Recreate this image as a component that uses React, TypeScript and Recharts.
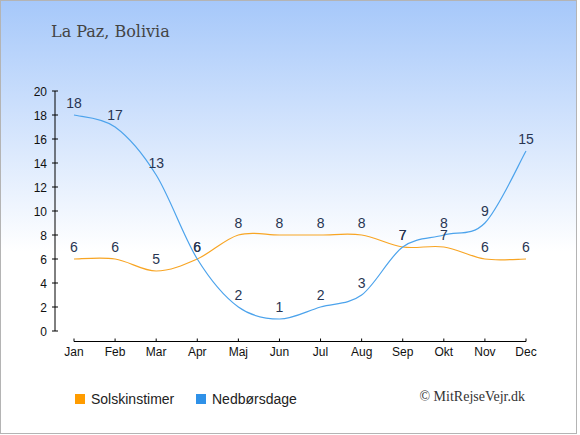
import { LineChart, Line, XAxis, YAxis, LabelList } from 'recharts'

const months = ['Jan', 'Feb', 'Mar', 'Apr', 'Maj', 'Jun', 'Jul', 'Aug', 'Sep', 'Okt', 'Nov', 'Dec']
const sunHours = [6, 6, 5, 6, 8, 8, 8, 8, 7, 7, 6, 6]
const rainDays = [18, 17, 13, 6, 2, 1, 2, 3, 7, 8, 9, 15]
const yTicks = [0, 2, 4, 6, 8, 10, 12, 14, 16, 18, 20]

const data = months.map((m, i) => ({ month: m, sun: sunHours[i], rain: rainDays[i] }))

const SUN_COLOR = '#f8a524'
const RAIN_COLOR = '#4ca3ec'
const LABEL_COLOR = '#283552'
const SANS = '"Liberation Sans", Arial, sans-serif'

// pixel spacing between month ticks (plot 55..526, 19px left padding)
const STEP = (526 - 74) / 11

// cardinal spline (tension 0), gives the slight overshoot seen in the original
function cardinal(context: any) {
  let pts: number[][] = []
  return {
    areaStart() {},
    areaEnd() {},
    lineStart() {
      pts = []
    },
    point(x: number, y: number) {
      pts.push([+x, +y])
    },
    lineEnd() {
      const n = pts.length
      if (!n) return
      const k = 1 / 6
      context.moveTo(pts[0][0], pts[0][1])
      for (let i = 0; i < n - 1; i++) {
        const p0 = pts[Math.max(i - 1, 0)]
        const p1 = pts[i]
        const p2 = pts[i + 1]
        const p3 = pts[Math.min(i + 2, n - 1)]
        context.bezierCurveTo(
          p1[0] + k * (p2[0] - p0[0]),
          p1[1] + k * (p2[1] - p0[1]),
          p2[0] - k * (p3[0] - p1[0]),
          p2[1] - k * (p3[1] - p1[1]),
          p2[0],
          p2[1]
        )
      }
    },
  }
}

function XTick({ x, y, payload, index }: any) {
  return (
    <g>
      {index === 0 && (
        <line x1={x} x2={x + STEP * (months.length - 1)} y1={y + 10.5} y2={y + 10.5} stroke="#000" />
      )}
      <line x1={x} x2={x} y1={y + 7.5} y2={y + 10.5} stroke="#000" />
      <text x={x} y={y + 25} textAnchor="middle" fontSize={12} fontFamily={SANS} fill="#111">
        {payload.value}
      </text>
    </g>
  )
}

function YTick({ x, y, payload }: any) {
  return (
    <g>
      <line x1={x - 3} x2={x + 3} y1={y} y2={y} stroke="#000" />
      <text x={x - 8} y={y} dy={4.5} textAnchor="end" fontSize={12} fontFamily={SANS} fill="#111">
        {payload.value}
      </text>
    </g>
  )
}

export default function App() {
  return (
    <div
      style={{
        position: 'absolute',
        left: 0,
        top: 0,
        width: 577,
        height: 434,
        boxSizing: 'border-box',
        border: '1px solid #b4b4b4',
        background: 'linear-gradient(to bottom, #a6c8fa 0%, #ffffff 58%, #ffffff 100%)',
        overflow: 'hidden',
      }}
    >
      <div
        style={{
          position: 'absolute',
          left: 50,
          top: 21,
          fontFamily: '"DejaVu Serif", serif',
          fontSize: 16,
          color: '#444',
          whiteSpace: 'nowrap',
        }}
      >
        La Paz, Bolivia
      </div>

      <div style={{ position: 'absolute', left: -1, top: -1 }}>
        <LineChart width={580} height={435} data={data} margin={{ top: 91, right: 54, bottom: 74, left: 0 }}>
          <XAxis
            dataKey="month"
            height={30}
            axisLine={false}
            tickLine={false}
            tickSize={0}
            tickMargin={0}
            padding={{ left: 19, right: 0 }}
            interval={0}
            tick={<XTick />}
          />
          <YAxis
            width={55}
            domain={[0, 20]}
            ticks={yTicks}
            interval={0}
            stroke="#000"
            tickLine={false}
            tickSize={0}
            tickMargin={0}
            tick={<YTick />}
          />
          <Line
            type={cardinal as any}
            dataKey="sun"
            stroke={SUN_COLOR}
            strokeWidth={1.2}
            dot={false}
            isAnimationActive={false}
          >
            <LabelList dataKey="sun" position="top" offset={7} fill={LABEL_COLOR} fontSize={14} fontFamily={SANS} />
          </Line>
          <Line
            type={cardinal as any}
            dataKey="rain"
            stroke={RAIN_COLOR}
            strokeWidth={1.2}
            dot={false}
            isAnimationActive={false}
          >
            <LabelList dataKey="rain" position="top" offset={7} fill={LABEL_COLOR} fontSize={14} fontFamily={SANS} />
          </Line>
        </LineChart>
      </div>

      <div style={{ position: 'absolute', left: 74, top: 390, fontFamily: SANS, fontSize: 14, color: '#222' }}>
        <span style={{ position: 'absolute', left: 0, top: 3, width: 10, height: 10, background: '#ff9c00' }} />
        <span style={{ position: 'absolute', left: 16, top: 0, whiteSpace: 'nowrap' }}>Solskinstimer</span>
        <span style={{ position: 'absolute', left: 121, top: 3, width: 10, height: 10, background: '#2f91e8' }} />
        <span style={{ position: 'absolute', left: 137, top: 0, whiteSpace: 'nowrap' }}>Nedbørsdage</span>
      </div>

      <div
        style={{
          position: 'absolute',
          right: 577 - 526,
          top: 388,
          fontFamily: '"Liberation Serif", serif',
          fontSize: 14,
          color: '#333',
          whiteSpace: 'nowrap',
        }}
      >
        © MitRejseVejr.dk
      </div>
    </div>
  )
}
